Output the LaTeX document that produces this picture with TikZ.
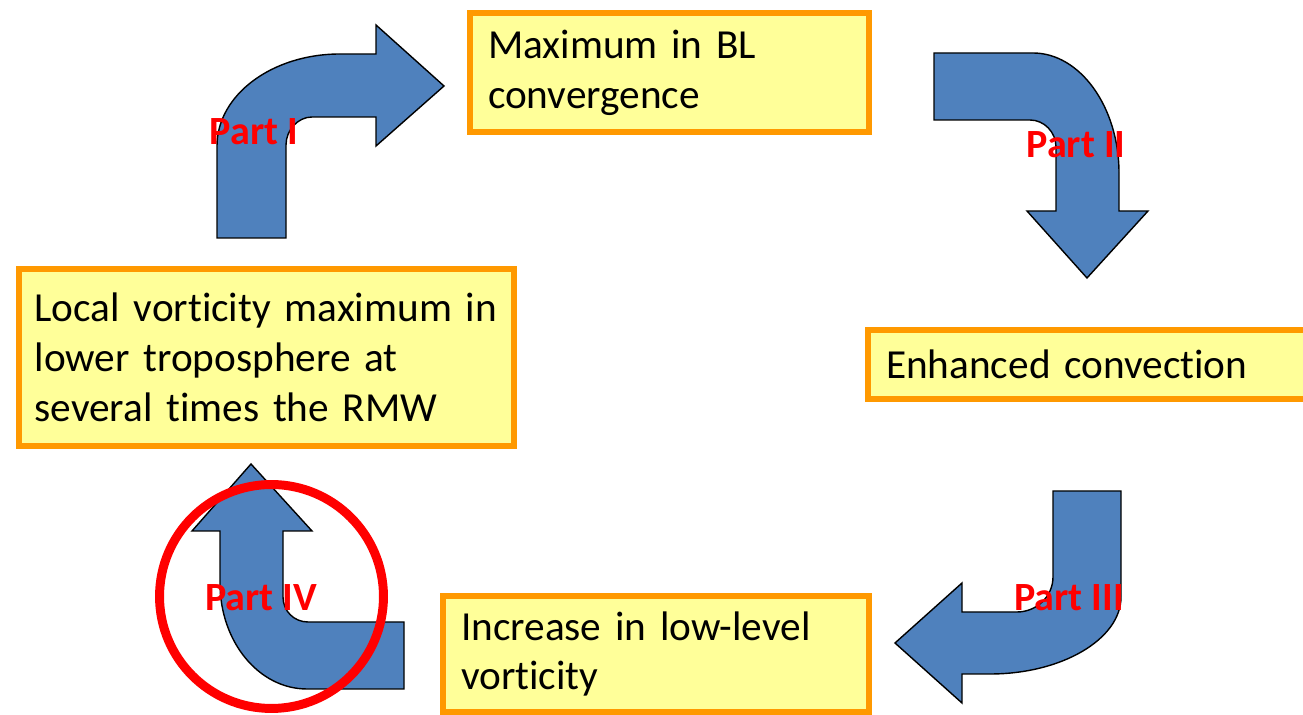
\documentclass[tikz,border=0pt]{standalone}
\usepackage{fontspec}
\setmainfont{Carlito}[Ligatures=NoCommon]
\usetikzlibrary{positioning}
\definecolor{mBlue}{HTML}{4F81BD}
\definecolor{mOrange}{HTML}{FF9900}
\definecolor{mYellow}{HTML}{FFFF99}
\definecolor{mRed}{HTML}{FF0000}

\begin{document}
\begin{tikzpicture}[x=0.02cm, y=-0.02cm,
      stepbox/.style={draw=mOrange, fill=mYellow, line width=3.4pt,
                      inner xsep=0.36cm, align=left,
                      font=\fontsize{23.5pt}{28.4pt}\selectfont},
      bent/.style={fill=mBlue, draw=black, line width=0.8pt, line join=miter},
      part/.style={text=mRed, font=\fontsize{22.8pt}{26pt}\selectfont\bfseries, inner sep=0pt}]
    \clip (0,0) rectangle (1303,715);
    % boxes
    \node[stepbox, minimum width=7.98cm, minimum height=2.38cm, text width=7.26cm]
      (blconv) at (669.5,72.5) {Maximum in BL\\convergence};
    \node[stepbox, minimum width=8.84cm, minimum height=1.38cm, text width=8.12cm]
      (convec) at (1089,364.5) {Enhanced convection};
    \node[stepbox, minimum width=8.52cm, minimum height=2.32cm, text width=7.80cm]
      (lowvort) at (656,654) {Increase in low-level\\vorticity};
    \node[stepbox, inner xsep=0.31cm, minimum width=9.9cm, minimum height=3.54cm, text width=9.28cm]
      (localmax) at (266.5,357.5) {Local vorticity maximum in\\lower troposphere at\\several times the RMW};
    % bent arrows
    \draw[bent] (217,238) -- (217,146) .. controls (217,95) and (272,54) .. (340,54)
      -- (376,54) -- (376,25) -- (444,86) -- (376,146) -- (376,117) -- (312,117)
      .. controls (298,117) and (286,130) .. (286,145) -- (286,238) -- cycle;
    \draw[bent] (934,53) -- (1033,53) .. controls (1080,53) and (1119,107) .. (1119,173)
      -- (1119,211) -- (1148,211) -- (1087,278) -- (1027,211) -- (1056,211) -- (1056,147)
      .. controls (1056,132) and (1044,120) .. (1030,120) -- (934,120) -- cycle;
    \draw[bent] (1053,491) -- (1121,491) -- (1121,597) .. controls (1121,639) and (1062,674) .. (990,674)
      -- (962,674) -- (962,703) -- (895,643) -- (962,583) -- (962,612) -- (1017,612)
      .. controls (1037,612) and (1053,596) .. (1053,577) -- cycle;
    \draw[bent] (251,464) -- (312,531) -- (283,531) -- (283,597) .. controls (283,611) and (294,622) .. (308,622)
      -- (404,622) -- (404,689) -- (307,689) .. controls (259,689) and (220,642) .. (220,583)
      -- (220,531) -- (192,531) -- cycle;
    % highlight
    \draw[mRed, line width=5.1pt] (271.5,596.5) circle[radius=2.24cm];
    % labels
    \node[part] (p1) at (254,132) {Part I};
    \node[part] (p2) at (1076,145) {Part II};
    \node[part] (p3) at (1069,598) {Part III};
    \node[part] (p4) at (261,598) {Part IV};
  \end{tikzpicture}
\end{document}
